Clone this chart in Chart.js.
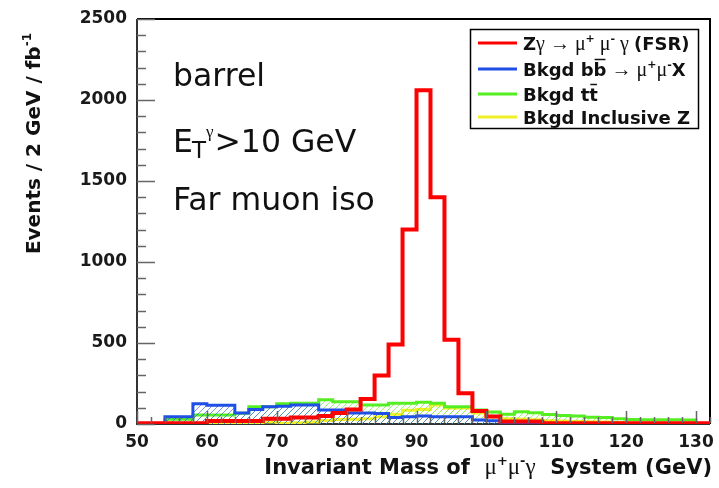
<!DOCTYPE html>
<html><head><meta charset="utf-8">
<script src="https://cdn.jsdelivr.net/npm/chart.js@4.4.1/dist/chart.umd.min.js"></script>
<style>html,body{margin:0;padding:0;background:#fff;}canvas{display:block;}</style>
</head><body>
<canvas id="c" width="719" height="488"></canvas>
<script>
// ---- data (2 GeV bins, lower edges) ----
const binLow = [50,52,54,56,58,60,62,64,66,68,70,72,74,76,78,80,82,84,86,88,90,92,94,96,98,100,102,104,106,108,110,112,114,116,118,120,122,124,126,128,130];
const binHighLast = 132;
const fsrZgamma = [4,4,4,4,4,18,18,18,18,32,32,40,40,50,68,90,155,300,490,1200,2060,1400,520,190,80,47,15,15,15,5,5,5,5,5,5,5,5,5,5,5,5];
const bkgBBbar  = [0,0,45,45,125,115,115,68,90,107,110,117,117,86,86,68,68,65,40,45,50,45,45,45,25,20,6,6,0,0,0,0,0,0,0,0,0,0,0,0,0];
const bkgTTbar  = [0,0,30,30,55,55,55,66,107,107,125,128,128,150,138,138,117,117,128,128,135,128,107,107,86,74,60,75,70,58,52,50,42,40,33,28,27,26,26,25,0];
const bkgInclZ  = [0,0,0,0,0,0,8,8,3,12,5,8,12,22,28,30,32,45,60,85,90,117,98,98,68,45,33,30,27,20,18,15,14,12,10,5,0,0,0,0,0];
const xTicks = [50,60,70,80,90,100,110,120,130];
const yTicks = [0,500,1000,1500,2000,2500];
const seriesNames = ['Zγ → μ⁺μ⁻γ (FSR)', 'Bkgd bb̄ → μ⁺μ⁻X', 'Bkgd tt̄', 'Bkgd Inclusive Z'];

const COL = {red:'#ff0000', blue:'#1f4fe6', green:'#55ee22', yellow:'#f0f028'};
const SANS = '"DejaVu Sans", sans-serif';
const SERIF = '"Liberation Serif", "DejaVu Serif", serif';

const canvas = document.getElementById('c');
const ctx = canvas.getContext('2d');

function hatch(color){
  const c = document.createElement('canvas'); c.width = 6; c.height = 6;
  const g = c.getContext('2d'); g.strokeStyle = color; g.globalAlpha = 0.6; g.lineWidth = 1;
  g.beginPath(); g.moveTo(0,6); g.lineTo(6,0); g.moveTo(-1,1); g.lineTo(1,-1); g.moveTo(5,7); g.lineTo(7,5); g.stroke();
  return ctx.createPattern(c,'repeat');
}
function histPoints(vals){
  const pts = binLow.map((x,i)=>({x:x, y:vals[i]}));
  pts.push({x:binHighLast, y:vals[vals.length-1]});
  return pts;
}
function drawRich(c, segs, x, y, align){
  let w = 0;
  segs.forEach(s=>{ c.font = s.font; s.w = c.measureText(s.t).width; w += s.w; });
  let cx = align === 'right' ? x - w : x;
  segs.forEach(s=>{
    c.font = s.font; c.fillText(s.t, cx, y + (s.dy||0));
    if (s.over){ c.save(); c.lineWidth = 1.5; c.strokeStyle = c.fillStyle; c.beginPath(); c.moveTo(cx+1, y - s.over); c.lineTo(cx + s.w - 1, y - s.over); c.stroke(); c.restore(); }
    cx += s.w;
  });
  return w;
}

const B18 = 'bold 18px ' + SANS, G19 = '20px ' + SERIF, SUP = 'bold 11px ' + SANS;
const legendRows = [
  {color: COL.red, segs: [{t:'Z',font:B18},{t:'γ',font:G19},{t:' → ',font:G19},{t:'μ',font:G19},{t:'+',font:SUP,dy:-8},{t:' μ',font:G19},{t:'-',font:SUP,dy:-8},{t:' γ ',font:G19},{t:'(FSR)',font:B18}]},
  {color: COL.blue, segs: [{t:'Bkgd b',font:B18},{t:'b',font:B18,over:16},{t:' → ',font:G19},{t:'μ',font:G19},{t:'+',font:SUP,dy:-8},{t:'μ',font:G19},{t:'-',font:SUP,dy:-8},{t:'X',font:B18}]},
  {color: COL.green, segs: [{t:'Bkgd t',font:B18},{t:'t',font:B18,over:16}]},
  {color: COL.yellow, segs: [{t:'Bkgd Inclusive Z',font:B18}]}
];

const decor = {
  id:'decor',
  beforeDatasetsDraw(chart){
    const c = chart.ctx, a = chart.chartArea;
    c.save();
    c.strokeStyle = '#000'; c.lineWidth = 2;
    c.beginPath(); c.moveTo(a.left, a.top); c.lineTo(a.right, a.top); c.lineTo(a.right, a.bottom); c.stroke();
    c.strokeStyle = '#333';
    c.beginPath(); c.moveTo(a.left, a.top); c.lineTo(a.left, a.bottom); c.lineTo(a.right, a.bottom); c.stroke();
    c.restore();
  },
  afterDatasetsDraw(chart){
    const c = chart.ctx, a = chart.chartArea, xs = chart.scales.x, ys = chart.scales.y;
    c.save();
    // inner ticks
    c.strokeStyle = '#666'; c.lineWidth = 1.5;
    c.beginPath();
    for (let v = ys.min; v <= ys.max; v += 100){ const y = Math.round(ys.getPixelForValue(v)) + 0.5; const L = (v % 500 === 0) ? 18 : 9; c.moveTo(a.left, y); c.lineTo(a.left + L, y); }
    for (let v = xs.min; v <= xs.max; v += 2){ const x = Math.round(xs.getPixelForValue(v)) + 0.5; const L = (v % 10 === 0) ? 12 : 6; c.moveTo(x, a.bottom - 1); c.lineTo(x, a.bottom - 1 - L); }
    c.stroke();
    // text in plot
    c.fillStyle = '#111'; c.textBaseline = 'alphabetic'; c.textAlign = 'left';
    c.font = '31.5px ' + SANS; c.fillText('barrel', 173, 86);
    let x = 173;
    c.font = '31.5px ' + SANS; c.fillText('E', x, 152); x += c.measureText('E').width;
    c.font = '23px ' + SANS; c.fillText('T', x - 1, 158); x += c.measureText('T').width - 1;
    c.font = '17px ' + SERIF; c.fillText('γ', x, 137); x += c.measureText('γ').width + 1;
    c.font = '31.5px ' + SANS; c.fillText('>10 GeV', x, 152);
    c.fillText('Far muon iso', 173, 210);
    // legend
    c.strokeStyle = '#000'; c.lineWidth = 1.5;
    c.strokeRect(470.5, 29.5, 228, 99);
    const rowY = [43, 69, 94, 117];
    legendRows.forEach((r,i)=>{
      c.strokeStyle = r.color; c.lineWidth = 3;
      c.beginPath(); c.moveTo(478, rowY[i]); c.lineTo(517, rowY[i]); c.stroke();
      c.fillStyle = '#111';
      drawRich(c, r.segs, 523, rowY[i] + 6.5, 'left');
    });
    // axis titles
    c.fillStyle = '#111';
    const TB = 'bold 21px ' + SANS, TG = '23px ' + SERIF, TS = 'bold 13px ' + SANS;
    drawRich(c, [{t:'Invariant Mass of  ',font:TB},{t:'μ',font:TG},{t:'+',font:TS,dy:-9},{t:'μ',font:TG},{t:'-',font:TS,dy:-9},{t:'γ',font:TG},{t:'  System (GeV)',font:TB}], 712, 474, 'right');
    c.save();
    c.translate(40, 33); c.rotate(-Math.PI/2);
    drawRich(c, [{t:'Events / 2 GeV / fb',font:'bold 20px ' + SANS},{t:'-1',font:'bold 12px ' + SANS,dy:-9}], 0, 0, 'right');
    c.restore();
    c.restore();
  }
};

const tickFont = {family: SANS, weight:'bold', size:17};
new Chart(ctx, {
  type:'line',
  data:{ datasets:[
    {label:seriesNames[0], data:histPoints(fsrZgamma), borderColor:COL.red, borderWidth:4, fill:false, stepped:'before'},
    {label:seriesNames[1], data:histPoints(bkgBBbar), borderColor:COL.blue, borderWidth:3, backgroundColor:hatch(COL.blue), fill:'origin', stepped:'before'},
    {label:seriesNames[2], data:histPoints(bkgTTbar), borderColor:COL.green, borderWidth:3, backgroundColor:hatch(COL.green), fill:'origin', stepped:'before'},
    {label:seriesNames[3], data:histPoints(bkgInclZ), borderColor:COL.yellow, borderWidth:3, backgroundColor:hatch(COL.yellow), fill:'origin', stepped:'before'}
  ]},
  options:{
    responsive:false, animation:false, devicePixelRatio:1,
    layout:{padding:{left:0, right:9, top:19, bottom:0}},
    elements:{point:{radius:0}, line:{tension:0, borderJoinStyle:'miter', borderCapStyle:'butt'}},
    plugins:{legend:{display:false}, tooltip:{enabled:false}, title:{display:false}},
    scales:{
      x:{type:'linear', min:50, max:binHighLast,
         afterBuildTicks(s){ s.ticks = xTicks.map(v=>({value:v})); },
         afterFit(s){ s.height = 64; s.paddingLeft = 0; s.paddingRight = 0; },
         grid:{display:false, drawTicks:false}, border:{display:false},
         ticks:{font:tickFont, color:'#1a1a1a', padding:8, maxRotation:0, autoSkip:false, callback:v=>String(v)}},
      y:{type:'linear', min:0, max:2500,
         afterBuildTicks(s){ s.ticks = yTicks.map(v=>({value:v})); },
         afterFit(s){ s.width = 137; s.paddingTop = 0; s.paddingBottom = 0; },
         grid:{display:false, drawTicks:false}, border:{display:false},
         ticks:{font:tickFont, color:'#1a1a1a', padding:10, callback:v=>String(v)}}
    }
  },
  plugins:[decor]
});
</script>
</body></html>
